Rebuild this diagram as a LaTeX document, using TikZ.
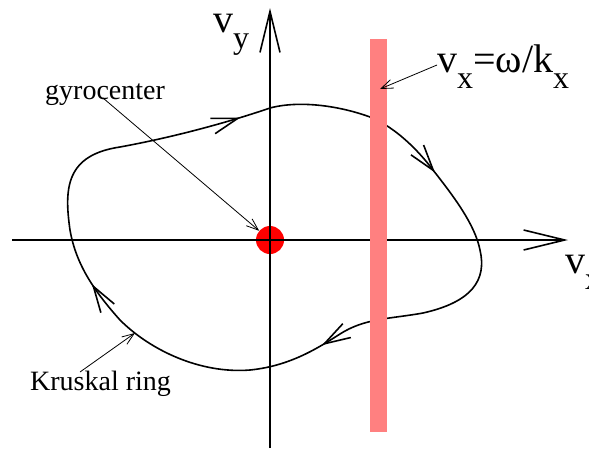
\documentclass[tikz,border=0pt]{standalone}
\usepackage{fontspec}
\setmainfont{Liberation Serif}
\usetikzlibrary{arrows.meta,decorations.markings}

\definecolor{bandpink}{RGB}{255,128,128}
\newcommand{\lowsub}[1]{\raisebox{-16pt}{\fontsize{32}{34}\selectfont #1}}

\tikzset{
    axis/.style={line width=1.6pt, -{Straight Barb[length=41pt, width=20pt]}},
    ring/.style={line width=1.6pt, postaction={decorate},
        decoration={markings,
            mark=at position 0.175 with {\arrow{Straight Barb[length=26pt, width=16pt]}},
            mark=at position 0.449 with {\arrow{Straight Barb[length=26pt, width=16pt]}},
            mark=at position 0.696 with {\arrow{Straight Barb[length=26pt, width=16pt]}},
            mark=at position 0.971 with {\arrow{Straight Barb[length=26pt, width=16pt]}}}},
    pointer/.style={line width=0.8pt, -{Straight Barb[length=12pt, width=9pt]}},
    biglabel/.style={font=\fontsize{40}{42}\selectfont, inner sep=0pt, anchor=base west},
    smalllabel/.style={font=\fontsize{28}{30}\selectfont, inner sep=0pt, anchor=base west},
}

\begin{document}
\begin{tikzpicture}[x=1pt, y=-1pt]
        \useasboundingbox (0,0) rectangle (589,448);

        % -----------------------
        % 1. Gyrocenter (under the axes)
        % -----------------------
        \node[circle, fill=red, inner sep=0pt, minimum size=28pt] (dot) at (270,240) {};

        % -----------------------
        % 2. Axes
        % -----------------------
        \coordinate (xstart) at (12,240);
        \coordinate (xend) at (568,240);
        \coordinate (ystart) at (270,448);
        \coordinate (yend) at (270,8);
        \draw[axis] (xstart) -- (xend);
        \draw[axis] (ystart) -- (yend);

        % -----------------------
        % 3. Kruskal ring
        % -----------------------
        \draw[ring] (270,108)
            .. controls (300,100) and (340,106) .. (370,117)
            .. controls (395,127) and (418,150) .. (433,170)
            .. controls (455,198) and (475,225) .. (480,250)
            .. controls (487,280) and (472,302) .. (423,313)
            .. controls (390,319) and (365,318) .. (340,334)
            .. controls (318,348) and (290,366) .. (250,370)
            .. controls (200,374) and (150,350) .. (120,320)
            .. controls (95,292) and (76,265) .. (70,230)
            .. controls (64,188) and (66,155) .. (120,147)
            .. controls (180,136) and (235,120) .. (270,108) -- cycle;

        % -----------------------
        % 4. Resonance band
        % -----------------------
        \fill[bandpink] (370,39) rectangle (387,432);

        % -----------------------
        % 5. Labels
        % -----------------------
        \node[biglabel] (vy) at (213,32) {v\lowsub{y}};
        \node[biglabel] (vx) at (565,273) {v\lowsub{x}};
        \node[biglabel] (phase) at (437,72) {v\lowsub{x}=ω/k\lowsub{x}};
        \node[smalllabel] (gyro) at (45,99) {gyrocenter};
        \node[smalllabel] (kruskal) at (30,390) {Kruskal ring};

        % -----------------------
        % Pointers
        % -----------------------
        \coordinate (gyrotail) at (103,98);
        \coordinate (ringtail) at (80,372);
        \coordinate (ringhead) at (135,333);
        \coordinate (bandtail) at (437,65);
        \coordinate (bandhead) at (380,89);
        \draw[pointer] (gyrotail) -- (dot);
        \draw[pointer] (ringtail) -- (ringhead);
        \draw[pointer] (bandtail) -- (bandhead);

    \end{tikzpicture}
\end{document}
